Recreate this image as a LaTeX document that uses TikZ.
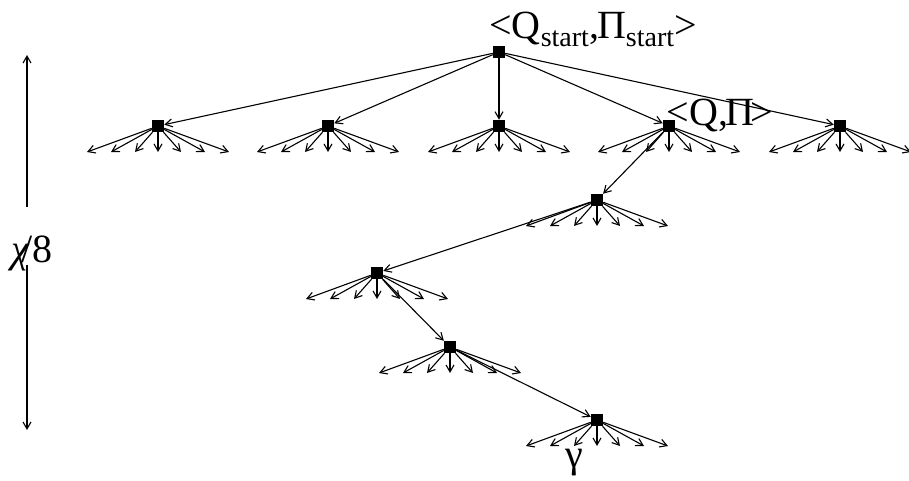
\documentclass[tikz,border=0pt]{standalone}
\usepackage{fontspec}
\setmainfont{Liberation Serif}
\usetikzlibrary{arrows.meta}
\newcommand\fanout[1]{%
  \foreach \d [count=\i] in {-71,-47,-23,0,23,47,71}{%
    \coordinate (#1f\i) at ([shift={(\d,26)}]#1.center);
    \draw[arr] (#1) -- (#1f\i);}}
\begin{document}
\begin{tikzpicture}[x=1pt,y=-1pt,
  sq/.style={fill=black,minimum size=12.5pt,inner sep=0pt,outer sep=0pt},
  arr/.style={-{Straight Barb[length=7pt,width=8pt]}, line width=1.1pt},
  lbl/.style={font=\fontsize{40}{40}\selectfont,inner sep=0pt,anchor=base}]
\useasboundingbox (0,0) rectangle (909,481);
% nodes
\node[sq] (r) at (499,52) {};
\node[sq] (a1) at (158,126) {};
\node[sq] (a2) at (328,126) {};
\node[sq] (a3) at (499,126) {};
\node[sq] (a4) at (669,126) {};
\node[sq] (a5) at (840,126) {};
\node[sq] (b) at (597,200) {};
\node[sq] (c) at (377,273) {};
\node[sq] (d) at (450,347) {};
\node[sq] (e) at (597,420) {};
% labels
\node[lbl] (rl) at (593,39) {<Q\raisebox{-8pt}{\fontsize{28}{28}\selectfont start},\kern-2ptΠ\raisebox{-8pt}{\fontsize{28}{28}\selectfont start}>};
\node[lbl] (ql) at (720,126) {<Q,\kern-3ptΠ\kern-3pt>};
\node[lbl] (gl) at (574,467) {γ};
\node[lbl] (chi) at (32,262) {\itshape χ\kern-8pt\upshape/8};
% connectors
\foreach \t in {a1,a2,a3,a4,a5} \draw[arr] (r) -- (\t);
\draw[arr] (a4) -- (b);
\draw[arr] (b) -- (c);
\draw[arr] (c) -- (d);
\draw[arr] (d) -- (e);
% fans
\fanout{a1}\fanout{a2}\fanout{a3}\fanout{a4}\fanout{a5}
\fanout{b}\fanout{c}\fanout{d}\fanout{e}
% axis
\coordinate (ax1) at (27,207);
\coordinate (ax2) at (27,55);
\coordinate (ax3) at (27,265);
\coordinate (ax4) at (27,430);
\draw[arr] (ax1) -- (ax2);
\draw[arr] (ax3) -- (ax4);
\end{tikzpicture}
\end{document}
